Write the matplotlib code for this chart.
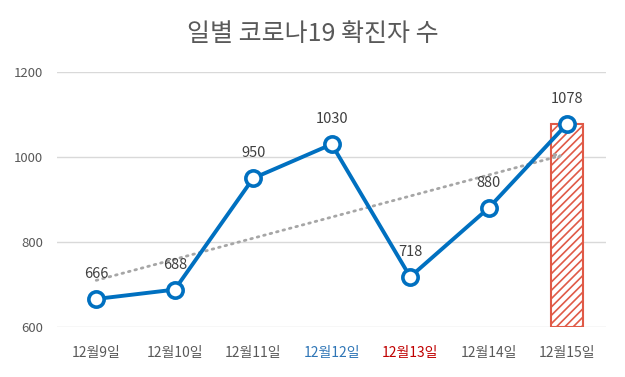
import numpy as np
import matplotlib
matplotlib.use("Agg")
import matplotlib.pyplot as plt

plt.rcParams["font.family"] = ["Noto Sans CJK KR", "DejaVu Sans"]
plt.rcParams["hatch.linewidth"] = 1.2

days = ["12월9일", "12월10일", "12월11일", "12월12일", "12월13일", "12월14일", "12월15일"]
cases = [666, 688, 950, 1030, 718, 880, 1078]
label_colors = ["#595959", "#595959", "#595959", "#2E75B6", "#C00000", "#595959", "#595959"]
y_ticks = [600, 800, 1000, 1200]

x = np.arange(len(days))

fig = plt.figure(figsize=(6.25, 3.77), dpi=100)
ax = fig.add_axes([0.0912, 0.1326, 0.879, 0.6764])

# last day highlighted as hatched bar
ax.bar(x[-1], cases[-1] - 600, bottom=600, width=0.4, facecolor="white",
       edgecolor="#E05A47", hatch="////", linewidth=1.5, zorder=2)

# linear trend
k, b = np.polyfit(x, cases, 1)
ax.annotate("", xy=(x[-1] - 0.05, k * (x[-1] - 0.05) + b), xytext=(x[0], b),
            arrowprops=dict(arrowstyle="->", color="#A6A6A6", lw=2,
                            linestyle=(0, (0.6, 1.8)), shrinkA=0, shrinkB=0),
            zorder=3)

ax.plot(x, cases, color="#0070C0", lw=2.8, marker="o", markersize=11,
        markerfacecolor="white", markeredgecolor="#0070C0", markeredgewidth=2.6,
        zorder=4, clip_on=False)

for xi, v in zip(x, cases):
    ax.annotate(str(v), (xi, v), xytext=(0, 13), textcoords="offset points",
                ha="center", va="bottom", fontsize=10.5, color="#404040")

ax.set_xlim(-0.5, len(days) - 0.5)
ax.set_ylim(600, 1200)
ax.set_yticks(y_ticks)
ax.set_yticklabels([str(t) for t in y_ticks], fontsize=9.5, color="#595959")
ax.set_xticks(x)
ax.set_xticklabels(days, fontsize=10)
for lbl, c in zip(ax.get_xticklabels(), label_colors):
    lbl.set_color(c)
ax.tick_params(axis="x", length=0, pad=14)
ax.tick_params(axis="y", length=0, pad=10)
ax.grid(axis="y", color="#D9D9D9", lw=1)
ax.set_axisbelow(True)
for s in ax.spines.values():
    s.set_visible(False)

fig.text(0.5, 0.91, "일별 코로나19 확진자 수", ha="center", va="center",
         fontsize=18, color="#595959")

fig.savefig("out.png", dpi=100)
